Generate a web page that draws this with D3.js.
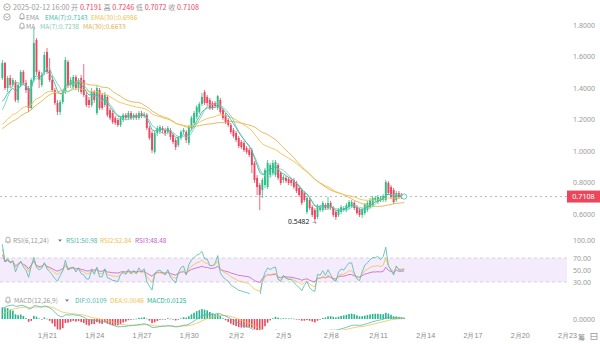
<!DOCTYPE html>
<html><head><meta charset="utf-8">
<script src="https://cdn.jsdelivr.net/npm/d3@7"></script>
<style>
html,body{margin:0;padding:0;background:#fff;}
svg{display:block;font-family:"Noto Sans CJK SC","Noto Sans",sans-serif;}
</style></head><body>
<svg id="c" width="600" height="344"></svg>
<script>
// ---- data ----
// closes before the visible window (estimated from where the indicator lines start)
const priorClose=[1.06,1.04,1.07,1.09,1.05,1.03,1.06,1.08,1.10,1.07,1.05,1.08,1.11,1.09,1.07,1.10,1.12,1.10,1.08,1.11,1.13,1.11,1.09,1.12,1.14,1.12,1.10,1.13,1.15,1.13,1.11,1.14,1.16,1.14,1.13,1.17,1.22,1.45];
const startTime="2025-01-18T04:00:00Z"; // 4h candles
const open=[1.464,1.559,1.400,1.464,1.419,1.438,1.324,1.419,1.502,1.432,
1.400,1.273,1.451,1.705,1.502,1.419,1.502,1.629,1.514,1.451,
1.387,1.305,1.248,1.311,1.375,1.565,1.419,1.406,1.470,1.400,
1.464,1.451,1.356,1.324,1.292,1.375,1.241,1.387,1.356,1.292,
1.343,1.260,1.241,1.210,1.197,1.165,1.197,1.229,1.210,1.241,
1.210,1.229,1.210,1.241,1.222,1.229,1.146,1.114,0.994,1.114,
1.121,1.146,1.133,1.121,1.133,1.102,1.070,1.038,1.083,1.121,
1.121,1.051,1.146,1.178,1.216,1.248,1.298,1.375,1.343,1.324,
1.305,1.305,1.273,1.324,1.260,1.229,1.197,1.165,1.133,1.114,
1.083,1.057,1.051,1.019,1.006,1.006,0.924,0.829,0.784,0.752,
0.784,0.771,0.848,0.860,0.848,0.911,0.860,0.816,0.829,0.822,
0.816,0.816,0.797,0.765,0.752,0.733,0.613,0.689,0.644,0.625,
0.581,0.625,0.625,0.657,0.638,0.670,0.638,0.613,0.594,0.613,
0.625,0.625,0.644,0.651,0.670,0.644,0.625,0.594,0.606,0.625,
0.644,0.657,0.689,0.676,0.689,0.689,0.689,0.797,0.771,0.752,
0.689,0.733,0.721,0.7191];
const high=[1.578,1.565,1.476,1.483,1.464,1.451,1.432,1.514,1.514,1.451,
1.413,1.464,1.781,1.717,1.514,1.502,1.629,1.654,1.590,1.476,
1.400,1.324,1.324,1.387,1.597,1.578,1.470,1.483,1.483,1.464,
1.483,1.552,1.375,1.343,1.400,1.387,1.413,1.400,1.368,1.375,
1.356,1.273,1.260,1.222,1.210,1.222,1.241,1.241,1.254,1.254,
1.241,1.241,1.254,1.254,1.248,1.241,1.159,1.127,1.127,1.159,
1.165,1.159,1.146,1.159,1.146,1.114,1.083,1.095,1.133,1.146,
1.133,1.165,1.222,1.254,1.292,1.311,1.368,1.387,1.356,1.337,
1.317,1.317,1.356,1.337,1.273,1.241,1.210,1.178,1.146,1.127,
1.095,1.070,1.064,1.032,1.019,1.019,0.936,0.848,0.797,0.829,
0.892,0.943,0.924,0.943,0.943,0.924,0.873,0.848,0.841,0.835,
0.829,0.829,0.810,0.778,0.765,0.746,0.714,0.702,0.657,0.638,
0.663,0.657,0.683,0.670,0.708,0.683,0.651,0.625,0.638,0.657,
0.651,0.670,0.689,0.689,0.683,0.657,0.638,0.638,0.670,0.683,
0.702,0.714,0.714,0.721,0.714,0.727,0.816,0.810,0.784,0.765,
0.746,0.746,0.733,0.7246];
const low=[1.451,1.387,1.375,1.400,1.406,1.311,1.305,1.406,1.419,1.368,
1.248,1.260,1.438,1.483,1.400,1.406,1.483,1.489,1.438,1.375,
1.292,1.229,1.229,1.298,1.362,1.400,1.400,1.394,1.387,1.375,
1.362,1.343,1.279,1.273,1.279,1.305,1.229,1.260,1.260,1.279,
1.216,1.197,1.171,1.165,1.152,1.152,1.184,1.197,1.197,1.197,
1.197,1.197,1.197,1.210,1.210,1.133,1.070,0.987,0.981,1.095,
1.108,1.114,1.095,1.108,1.070,1.044,1.006,1.025,1.070,1.108,
1.051,1.038,1.133,1.165,1.203,1.235,1.286,1.292,1.286,1.260,
1.260,1.273,1.260,1.235,1.197,1.171,1.152,1.108,1.083,1.057,
1.019,1.013,0.994,0.981,0.962,0.860,0.797,0.721,0.625,0.702,
0.765,0.759,0.835,0.848,0.835,0.816,0.784,0.797,0.797,0.784,
0.778,0.759,0.733,0.708,0.657,0.676,0.600,0.625,0.581,0.5482,
0.568,0.613,0.613,0.625,0.625,0.625,0.581,0.562,0.581,0.600,
0.613,0.613,0.632,0.638,0.625,0.594,0.581,0.575,0.594,0.613,
0.632,0.644,0.676,0.663,0.676,0.676,0.676,0.721,0.695,0.663,
0.676,0.695,0.695,0.7072];
const close=[1.559,1.400,1.464,1.419,1.451,1.324,1.419,1.502,1.432,1.387,
1.273,1.451,1.686,1.502,1.451,1.483,1.610,1.502,1.451,1.387,
1.305,1.248,1.311,1.375,1.578,1.419,1.451,1.470,1.400,1.451,
1.375,1.356,1.292,1.292,1.375,1.324,1.400,1.273,1.273,1.356,
1.229,1.210,1.184,1.178,1.165,1.210,1.229,1.210,1.241,1.210,
1.229,1.210,1.241,1.222,1.235,1.146,1.083,1.006,1.114,1.146,
1.152,1.133,1.114,1.146,1.089,1.057,1.025,1.083,1.121,1.133,
1.070,1.152,1.210,1.241,1.279,1.298,1.343,1.305,1.305,1.273,
1.273,1.286,1.349,1.248,1.210,1.184,1.165,1.121,1.095,1.070,
1.032,1.025,1.006,0.994,0.975,0.911,0.816,0.771,0.721,0.816,
0.879,0.924,0.911,0.924,0.930,0.829,0.797,0.835,0.810,0.797,
0.797,0.771,0.746,0.721,0.670,0.689,0.702,0.638,0.594,0.568,
0.651,0.644,0.670,0.638,0.670,0.638,0.594,0.581,0.625,0.644,
0.638,0.657,0.676,0.676,0.638,0.606,0.594,0.625,0.657,0.670,
0.689,0.702,0.702,0.708,0.702,0.714,0.803,0.733,0.708,0.676,
0.733,0.708,0.708,0.7108];
const tickDates=["2025-01-21","2025-01-24","2025-01-27","2025-01-30","2025-02-02","2025-02-05","2025-02-08","2025-02-11","2025-02-14","2025-02-17","2025-02-20","2025-02-23"];
const priceTicks=[1.8,1.6,1.4,1.2,1.0,0.8,0.6];
const rsiTicks=[100,70,50,30];
const macdTicks=[0];
const header={time:"2025-02-12 16:00",o:"0.7191",h:"0.7246",l:"0.7072",c:"0.7108"};
// legend readouts as printed on the reference
const emaLegend=["0.7143","0.6986"];
const maLegend=["0.7238","0.6633"];
const rsiLegend=["50.98","52.84","48.48"];
const macdLegend=["0.0109","0.0046","0.0125"];

// ---- colours ----
const UP="#2ebd85", DOWN="#f0455f";
const C_EMA7="#3dbcab", C_EMA30="#efc24f", C_MA7="#7fcdb6", C_MA30="#e4b14c";
const C_R1="#4cb9b0", C_R2="#f1c04d", C_R3="#c35ec8";
const GRAY="#9a9a9a";

// ---- indicators ----
const all=priorClose.concat(close);
const off=priorClose.length;
function ema(arr,n){const k=2/(n+1);let e=arr[0];return arr.map((v,i)=>i===0?e:(e=v*k+e*(1-k)));}
function sma(arr,n){return arr.map((v,i)=>{const s=Math.max(0,i-n+1);const sl=arr.slice(s,i+1);return d3.mean(sl);});}
function rsi(arr,n){const out=[];let ag=0,al=0;for(let i=0;i<arr.length;i++){if(i===0){out.push(50);continue;}const ch=arr[i]-arr[i-1];const g=Math.max(ch,0),l=Math.max(-ch,0);if(i<=n){ag+=g/n;al+=l/n;}else{ag=(ag*(n-1)+g)/n;al=(al*(n-1)+l)/n;}out.push(al===0?100:100-100/(1+ag/al));}return out;}
const ema7=ema(all,7).slice(off), ema30=ema(all,30).slice(off);
const ma7=sma(all,7).slice(off), ma30=sma(all,30).slice(off);
const r6=rsi(all,6).slice(off), r12=rsi(all,12).slice(off), r24=rsi(all,24).slice(off);
const e12=ema(all,12), e26=ema(all,26);
const difAll=e12.map((v,i)=>v-e26[i]);
const deaAll=ema(difAll,9);
const dif=difAll.slice(off), dea=deaAll.slice(off);
const hist=dif.map((v,i)=>2*(v-dea[i]));

// ---- scales ----
const svg=d3.select("#c");
const t0=Date.parse(startTime);
const times=close.map((_,i)=>new Date(t0+i*4*3600e3));
const x=d3.scaleUtc().domain([new Date("2025-01-21T00:00:00Z"),new Date("2025-02-23T00:00:00Z")]).range([47,567]);
const y=d3.scaleLinear().domain([0.6,1.8]).range([214,25]);
const ry=d3.scaleLinear().domain([0,100]).range([300,240]);
const maxPos=d3.max([...dif,...dea,...hist]);
const my=d3.scaleLinear().domain([0,maxPos]).range([319,305]);

const defs=svg.append("defs");
defs.append("clipPath").attr("id","cp").append("rect").attr("x",0).attr("y",18).attr("width",567).attr("height",212);
defs.append("clipPath").attr("id","cr").append("rect").attr("x",0).attr("y",236).attr("width",567).attr("height",58);
defs.append("clipPath").attr("id","cm").append("rect").attr("x",0).attr("y",296).attr("width",567).attr("height",34);

// ---- icons ----
function eyeIcon(cx,cy){const g=svg.append("g").attr("fill","none").attr("stroke","#8d8d8d").attr("stroke-width",0.7);
 g.append("circle").attr("cx",cx).attr("cy",cy).attr("r",3.2);
 g.append("path").attr("d",`M${cx-1.6},${cy-0.6} L${cx},${cy+0.9} L${cx+1.6},${cy-0.6}`);}
function bell(cx,cy){svg.append("path").attr("fill","none").attr("stroke","#8d8d8d").attr("stroke-width",0.7)
 .attr("d",`M${cx-2.6},${cy+2} L${cx+2.6},${cy+2} M${cx-2},${cy+2} L${cx-2},${cy-0.6} Q${cx-2},${cy-3} ${cx},${cy-3} Q${cx+2},${cy-3} ${cx+2},${cy-0.6} L${cx+2},${cy+2} M${cx-0.7},${cy+3} L${cx+0.7},${cy+3}`);}

// ---- header texts ----
const fs=7.2, fl=6.5;
eyeIcon(7,7);
const h1=svg.append("text").attr("x",13).attr("y",9.6).attr("font-size",fs).attr("fill",GRAY);
h1.append("tspan").text(header.time+" 开 ");
h1.append("tspan").attr("fill",DOWN).text(header.o);
h1.append("tspan").text(" 高 ");
h1.append("tspan").attr("fill",DOWN).text(header.h);
h1.append("tspan").text(" 低 ");
h1.append("tspan").attr("fill",DOWN).text(header.l);
h1.append("tspan").text(" 收 ");
h1.append("tspan").attr("fill",DOWN).text(header.c);
eyeIcon(7,17);
bell(22,16.5);
svg.append("text").attr("x",26).attr("y",19.6).attr("font-size",fl).attr("fill",GRAY).text("EMA");
svg.append("text").attr("x",45).attr("y",19.6).attr("font-size",fl).attr("fill",C_EMA7).text("EMA(7):"+emaLegend[0]);
svg.append("text").attr("x",91).attr("y",19.6).attr("font-size",fl).attr("fill",C_EMA30).text("EMA(30):"+emaLegend[1]);
bell(22,26);
svg.append("text").attr("x",26).attr("y",29).attr("font-size",fl).attr("fill",GRAY).text("MA");
svg.append("text").attr("x",40).attr("y",29).attr("font-size",fl).attr("fill",C_MA7).text("MA(7):"+maLegend[0]);
svg.append("text").attr("x",83).attr("y",29).attr("font-size",fl).attr("fill",C_MA30).text("MA(30):"+maLegend[1]);

// ---- price axis ----
const pa=svg.append("g").attr("transform","translate(573,0)")
 .call(d3.axisRight(y).tickValues(priceTicks).tickFormat(d3.format(".4f")).tickSize(0).tickPadding(0));
pa.select(".domain").remove();
pa.selectAll("text").attr("fill",GRAY).attr("font-size",7).attr("font-family","'Noto Sans',sans-serif");

// last price dotted line
const lastC=close[close.length-1];
svg.append("line").attr("x1",0).attr("x2",567).attr("y1",y(lastC)).attr("y2",y(lastC))
 .attr("stroke","#a8a8a8").attr("stroke-width",0.8).attr("stroke-dasharray","2,3");

// ---- candles ----
const pg=svg.append("g").attr("clip-path","url(#cp)");
const cw=1.9;
const cg=pg.selectAll("g.k").data(close.map((c,i)=>({t:times[i],o:open[i],h:high[i],l:low[i],c}))).join("g");
cg.append("line").attr("x1",d=>x(d.t)).attr("x2",d=>x(d.t)).attr("y1",d=>y(d.h)).attr("y2",d=>y(d.l))
 .attr("stroke",d=>d.c>=d.o?UP:DOWN).attr("stroke-width",0.8);
cg.append("rect").attr("x",d=>x(d.t)-cw/2).attr("width",cw)
 .attr("y",d=>y(Math.max(d.o,d.c))).attr("height",d=>Math.max(0.8,Math.abs(y(d.o)-y(d.c))))
 .attr("fill",d=>d.c>=d.o?UP:DOWN);

// MA / EMA lines
const lineP=arr=>d3.line().x((d,i)=>x(times[i])).y(d=>y(d))(arr);
[[ma30,C_MA30],[ema30,C_EMA30],[ma7,C_MA7],[ema7,C_EMA7]].forEach(([a,c])=>{
 pg.append("path").attr("d",lineP(a)).attr("fill","none").attr("stroke",c).attr("stroke-width",0.9);
});
// last marker
svg.append("circle").attr("cx",x(times[times.length-1])).attr("cy",y(lastC)).attr("r",2.6)
 .attr("fill","#fff").attr("stroke",C_EMA7).attr("stroke-width",0.8);

// price tag
svg.append("rect").attr("x",567).attr("y",y(lastC)-6).attr("width",33).attr("height",12).attr("fill","#e8475c");
svg.append("text").attr("x",583.5).attr("y",y(lastC)+2.6).attr("text-anchor","middle").attr("font-size",7.2)
 .attr("fill","#fff").attr("font-family","'Noto Sans',sans-serif").text(lastC.toFixed(4));

// lowest label
const li=d3.minIndex(low);
svg.append("text").attr("x",x(times[li])+3).attr("y",y(low[li])+1.5).attr("text-anchor","end")
 .attr("font-size",6.8).attr("fill","#222").attr("font-family","'Noto Sans',sans-serif").text(low[li].toFixed(4)+" →");

// ---- RSI pane ----
svg.append("rect").attr("x",0).attr("width",567).attr("y",ry(70)).attr("height",ry(30)-ry(70)).attr("fill","#f4ebfc");
[70,30].forEach(v=>svg.append("line").attr("x1",0).attr("x2",567).attr("y1",ry(v)).attr("y2",ry(v))
 .attr("stroke","#c9c2cf").attr("stroke-width",0.7).attr("stroke-dasharray","3,3"));
const ra=svg.append("g").attr("transform","translate(573,0)")
 .call(d3.axisRight(ry).tickValues(rsiTicks).tickFormat(d3.format(".2f")).tickSize(0).tickPadding(0));
ra.select(".domain").remove();
ra.selectAll("text").attr("fill",GRAY).attr("font-size",7).attr("font-family","'Noto Sans',sans-serif");
const rg=svg.append("g").attr("clip-path","url(#cr)");
const lineR=arr=>d3.line().x((d,i)=>x(times[i])).y(d=>ry(d))(arr);
[[r24,C_R3],[r12,C_R2],[r6,C_R1]].forEach(([a,c])=>rg.append("path").attr("d",lineR(a)).attr("fill","none").attr("stroke",c).attr("stroke-width",0.8));
bell(8,240);
svg.append("text").attr("x",13).attr("y",242.6).attr("font-size",fl).attr("fill",GRAY).text("RSI(6,12,24)");
svg.append("path").attr("d","M58,239.5 L62,239.5 L60,241.8Z").attr("fill","#777");
svg.append("text").attr("x",66).attr("y",242.6).attr("font-size",fl).attr("fill",C_R1).text("RSI1:"+rsiLegend[0]);
svg.append("text").attr("x",100).attr("y",242.6).attr("font-size",fl).attr("fill",C_R2).text("RSI2:"+rsiLegend[1]);
svg.append("text").attr("x",135).attr("y",242.6).attr("font-size",fl).attr("fill",C_R3).text("RSI3:"+rsiLegend[2]);

// ---- MACD pane ----
const mg=svg.append("g").attr("clip-path","url(#cm)");
mg.selectAll("rect.h").data(hist).join("rect")
 .attr("x",(d,i)=>x(times[i])-0.8).attr("width",1.6)
 .attr("y",d=>my(Math.max(0,d))).attr("height",d=>Math.max(0.6,Math.abs(my(d)-my(0))))
 .attr("fill",d=>d>=0?"#27b48f":"#e8475c");
const lineM=arr=>d3.line().x((d,i)=>x(times[i])).y(d=>my(d))(arr);
mg.append("path").attr("d",lineM(dea)).attr("fill","none").attr("stroke",C_R2).attr("stroke-width",0.8);
mg.append("path").attr("d",lineM(dif)).attr("fill","none").attr("stroke",C_R1).attr("stroke-width",0.8);
const ma=svg.append("g").attr("transform","translate(573,0)")
 .call(d3.axisRight(my).tickValues(macdTicks).tickFormat(d3.format(".4f")).tickSize(0).tickPadding(0));
ma.select(".domain").remove();
ma.selectAll("text").attr("fill",GRAY).attr("font-size",7).attr("font-family","'Noto Sans',sans-serif");
bell(8,300);
svg.append("text").attr("x",14).attr("y",302.6).attr("font-size",fl).attr("fill",GRAY).text("MACD(12,26,9)");
svg.append("path").attr("d","M65,299.5 L69,299.5 L67,301.8Z").attr("fill","#777");
svg.append("text").attr("x",75).attr("y",302.6).attr("font-size",fl).attr("fill",C_R1).text("DIF:"+macdLegend[0]);
svg.append("text").attr("x",110).attr("y",302.6).attr("font-size",fl).attr("fill",C_R2).text("DEA:"+macdLegend[1]);
svg.append("text").attr("x",147).attr("y",302.6).attr("font-size",fl).attr("fill","#27b48f").text("MACD:"+macdLegend[2]);

// ---- date axis ----
const xa=svg.append("g").attr("transform","translate(0,333)")
 .call(d3.axisBottom(x).tickValues(tickDates.map(s=>new Date(s+"T00:00:00Z")))
 .tickFormat(d=>`${d.getUTCMonth()+1}月${d.getUTCDate()}`).tickSize(0).tickPadding(0));
xa.select(".domain").remove();
xa.selectAll("text").attr("fill","#8a8a8a").attr("font-size",7.2);
svg.append("text").attr("x",578).attr("y",340).attr("font-size",7.2).attr("fill","#8a8a8a").text("筹");
svg.append("rect").attr("x",591).attr("y",333.5).attr("width",6).attr("height",6).attr("fill","none").attr("stroke","#8a8a8a").attr("stroke-width",0.7);
svg.append("line").attr("x1",591).attr("x2",597).attr("y1",336.5).attr("y2",336.5).attr("stroke","#8a8a8a").attr("stroke-width",0.6);
</script>
</body></html>
